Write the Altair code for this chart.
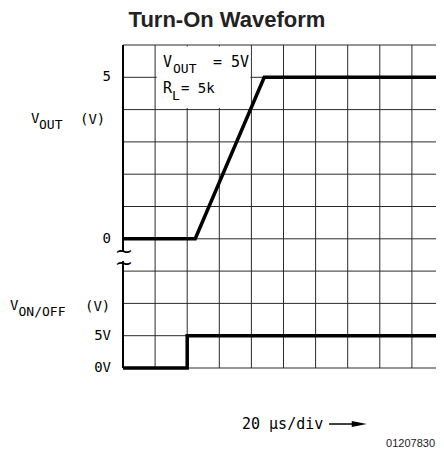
import altair as alt
import pandas as pd

# ---- data (grid divisions: x = 20 us/div, y = divisions from bottom) ----
vout_t = [0, 2.25, 4.4, 10]
vout_v = [4, 4, 9, 9]
von_t = [0, 2, 2, 10]
von_v = [0, 0, 1, 1]

ytick_vals = [9, 4, 1, 0]
ytick_text = ["5", "0", "5V", "0V"]
grid_vals = list(range(11))

title_text = "Turn-On Waveform"
figure_id = "01207830"

# ---- scales: 10 divisions, the right-most part runs off the page ----
X = alt.Scale(domain=[0, 9.751], nice=False, zero=False)
Y = alt.Scale(domain=[0, 10], nice=False, zero=False)


def xe(field="x"):
    return alt.X(f"{field}:Q", scale=X, axis=None)


def ye(field="y"):
    return alt.Y(f"{field}:Q", scale=Y, axis=None)


GRID = "#2a2a2a"

# ---- oscilloscope grid ----
vgrid_df = pd.DataFrame({"x": grid_vals, "y": [0] * len(grid_vals),
                         "y2": [10] * len(grid_vals)})
hgrid_df = pd.DataFrame({"y": grid_vals, "x": [0] * len(grid_vals),
                         "x2": [10] * len(grid_vals)})
vgrid = alt.Chart(vgrid_df).mark_rule(color=GRID, strokeWidth=1).encode(
    x=xe(), y=ye(), y2="y2:Q")
hgrid = alt.Chart(hgrid_df).mark_rule(color=GRID, strokeWidth=1).encode(
    y=ye(), x=xe(), x2="x2:Q")
border_df = pd.DataFrame({"x": [0], "y": [0], "y2": [10]})
border = alt.Chart(border_df).mark_rule(color="#000", strokeWidth=2).encode(
    x=xe(), y=ye(), y2="y2:Q")

# y tick labels
ylab_df = pd.DataFrame({"x": [0] * len(ytick_vals), "y": ytick_vals,
                        "t": ytick_text})
ylabels = alt.Chart(ylab_df).mark_text(
    align="right", baseline="middle", dx=-12, font="DejaVu Sans Mono",
    fontSize=14, color="#000"
).encode(x=xe(), y=ye(), text="t:N")

trace_df = pd.DataFrame({
    "x": vout_t + von_t,
    "y": vout_v + von_v,
    "s": ["vout"] * len(vout_t) + ["von"] * len(von_t),
    "o": list(range(len(vout_t))) + list(range(len(von_t))),
})

# annotation box (white background behind the condition text)
box_df = pd.DataFrame({"x": [1.05], "x2": [3.97], "y": [8.05], "y2": [9.95]})
box = alt.Chart(box_df).mark_rect(fill="white").encode(
    x=xe(), x2="x2:Q", y=ye(), y2="y2:Q")

traces = alt.Chart(trace_df).mark_line(
    color="black", strokeWidth=3.5, strokeJoin="miter", strokeCap="butt"
).encode(x=xe(), y=ye(), detail="s:N", order="o:Q")

# text pieces (with subscripts), positions in grid units
text_df = pd.DataFrame([
    {"x": -2.866, "y": 7.585, "t": "V", "fs": 14},
    {"x": -2.617, "y": 7.399, "t": "OUT", "fs": 13},
    {"x": -1.340, "y": 7.554, "t": "(V)", "fs": 14},
    {"x": -3.520, "y": 1.796, "t": "V", "fs": 14},
    {"x": -3.255, "y": 1.610, "t": "ON/OFF", "fs": 13},
    {"x": -1.184, "y": 1.765, "t": "(V)", "fs": 14},
    {"x": 1.246, "y": 9.319, "t": "V", "fs": 15},
    {"x": 1.558, "y": 9.133, "t": "OUT", "fs": 13},
    {"x": 2.804, "y": 9.319, "t": "= 5V", "fs": 15},
    {"x": 1.246, "y": 8.514, "t": "R", "fs": 15},
    {"x": 1.526, "y": 8.297, "t": "L", "fs": 13},
    {"x": 1.806, "y": 8.514, "t": "= 5k", "fs": 14},
    {"x": 3.707, "y": -1.889, "t": "20 \u03bcs/div", "fs": 15},
])
texts = alt.Chart(text_df).mark_text(
    align="left", baseline="alphabetic", font="DejaVu Sans Mono", color="#000"
).encode(
    x=xe(), y=ye(), text="t:N",
    size=alt.Size("fs:Q", scale=None, legend=None),
)

title_df = pd.DataFrame({"x": [3.24], "y": [10.557], "t": [title_text]})
title_mark = alt.Chart(title_df).mark_text(
    align="center", baseline="alphabetic", font="Liberation Sans", fontSize=22,
    fontWeight="bold", color="#222"
).encode(x=xe(), y=ye(), text="t:N")

fig_df = pd.DataFrame({"x": [9.72], "y": [-2.446], "t": [figure_id]})
fig_text = alt.Chart(fig_df).mark_text(
    align="right", baseline="alphabetic", font="Liberation Sans", fontSize=11,
    color="#222"
).encode(x=xe(), y=ye(), text="t:N")

# axis break on the left border
gap_df = pd.DataFrame({"x": [0.0], "y": [3.62], "y2": [3.31]})
gap = alt.Chart(gap_df).mark_rule(color="white", strokeWidth=5).encode(
    x=xe(), y=ye(), y2="y2:Q")
squig_df = pd.DataFrame({"x": [0.03, 0.03], "y": [3.62, 3.25], "t": ["~", "~"]})
squig = alt.Chart(squig_df).mark_text(
    align="center", baseline="middle", font="DejaVu Sans", fontSize=22,
    color="#000"
).encode(x=xe(), y=ye(), text="t:N")

# arrow after "20 us/div"
arrow_df = pd.DataFrame({"x": [6.42], "x2": [7.30], "y": [-1.734]})
arrow_line = alt.Chart(arrow_df).mark_rule(color="#000", strokeWidth=1.5).encode(
    x=xe(), x2="x2:Q", y=ye())
head_df = pd.DataFrame({"x": [7.36], "y": [-1.734]})
arrow_head = alt.Chart(head_df).mark_point(
    shape="M-1,-0.4L1,0L-1,0.4Z", filled=True, color="#000", size=225, opacity=1
).encode(x=xe(), y=ye())

chart = alt.layer(
    vgrid, hgrid, border, box, traces, gap, squig, ylabels, texts, title_mark,
    fig_text, arrow_line, arrow_head
).properties(
    width=313,
    height=323,
    padding={"left": 115, "top": 37, "right": 0, "bottom": 80},
    autosize=alt.AutoSizeParams(type="none"),
).configure_view(stroke="transparent", strokeWidth=0)

chart.save("out.html", embed_options={"renderer": "svg", "actions": False})
